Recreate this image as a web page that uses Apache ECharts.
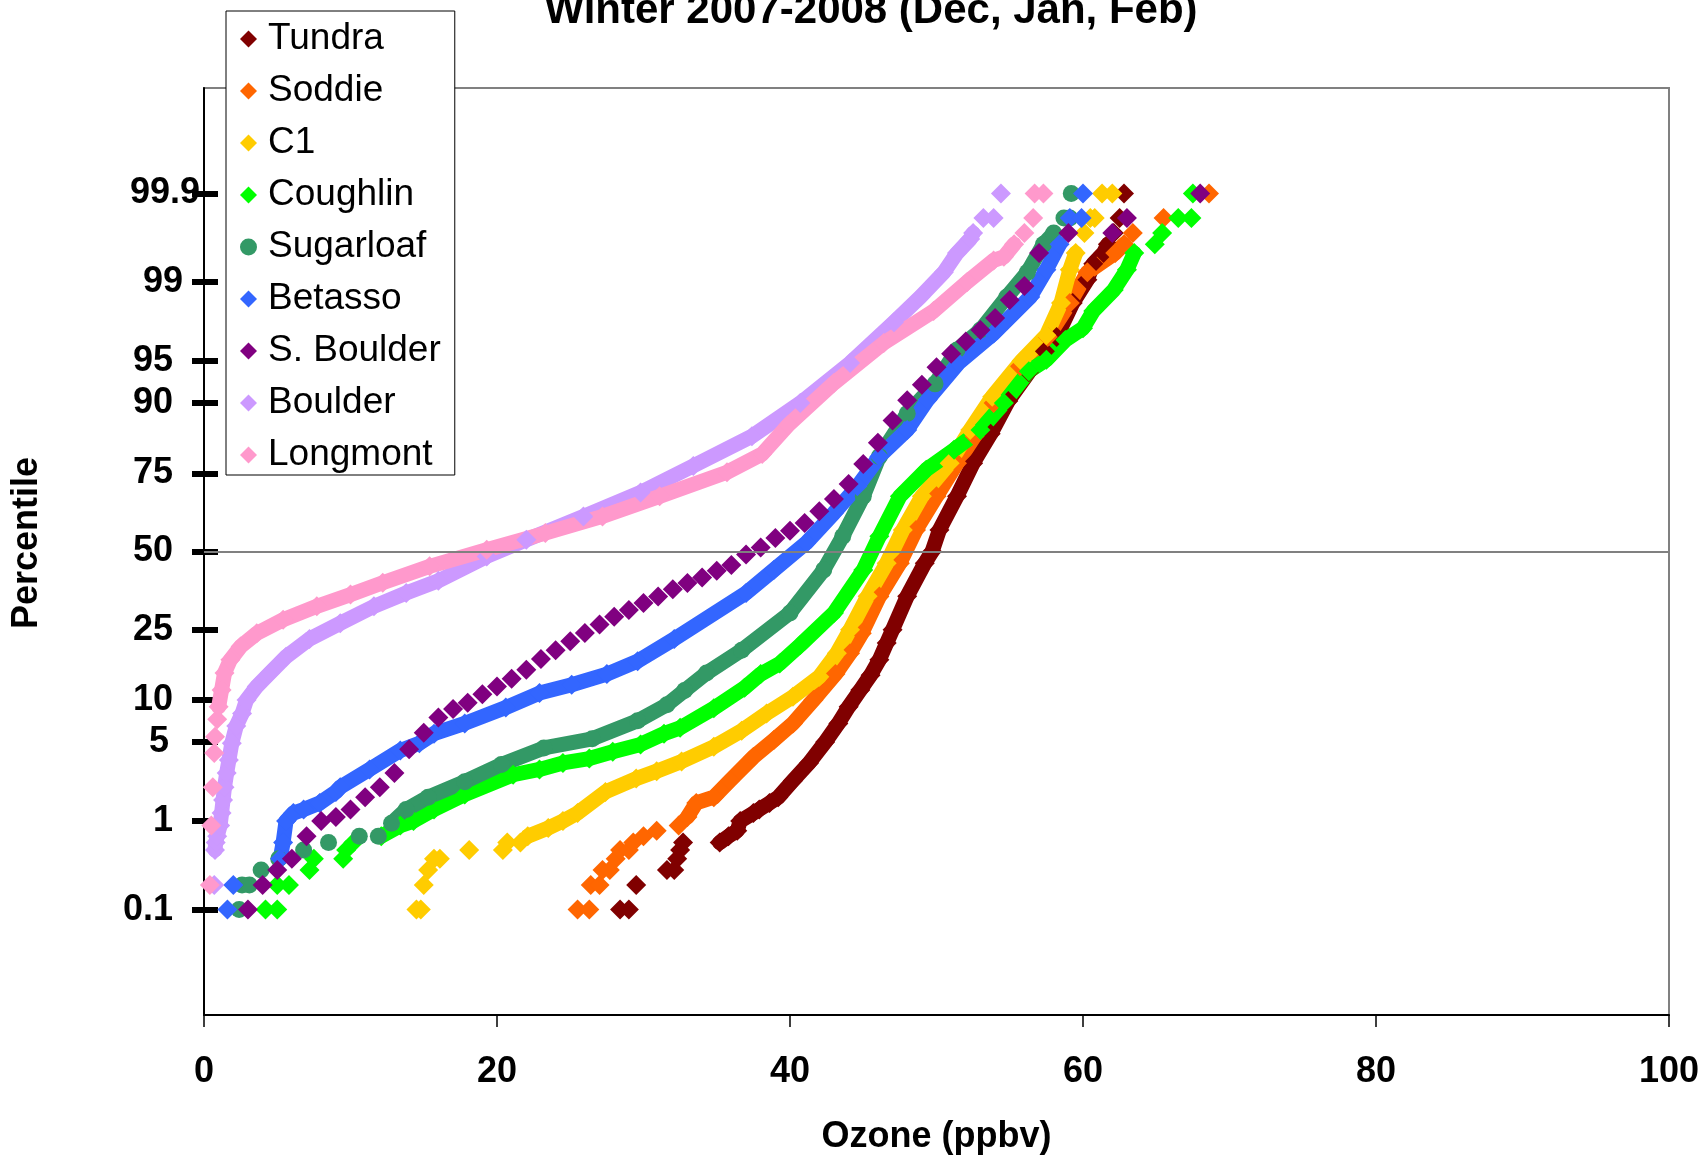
<!DOCTYPE html>
<html>
<head>
<meta charset="utf-8">
<title>Winter 2007-2008 ozone percentiles</title>
<script src="https://cdn.jsdelivr.net/npm/echarts@6/dist/echarts.min.js"></script>
<style>
  html, body { margin: 0; padding: 0; background: #ffffff; }
  #chart { width: 1706px; height: 1155px; }
</style>
</head>
<body>
<div id="chart"></div>
<script>
// Percentile labels shown on the probability (normal-quantile) axis
const percentileTicks = [0.1, 1, 5, 10, 25, 50, 75, 90, 95, 99, 99.9];
const ozoneTicks = [0, 20, 40, 60, 80, 100];

// Each station: [ozone (ppbv), cumulative percentile]
const tundra = [[28.4,0.1],[29.0,0.1],[29.5,0.2],[31.6,0.3],[32.1,0.3],[32.3,0.4],[32.5,0.5],[32.7,0.6],
  [35.2,0.6],[35.8,0.7],[36.4,0.8],[36.6,1.0],[37.5,1.2],[37.9,1.3],[38.6,1.5],[39.2,1.7],[40.2,2.4],
  [41.3,3.4],[42.4,5.0],[43.3,6.9],[44.0,9.0],[44.8,11.6],[45.5,14.3],[46.1,17.5],[46.6,21.5],[47.0,25.0],
  [48.0,35.0],[49.2,46.0],[49.7,50.0],[50.2,57.4],[51.4,68.3],[52.5,77.7],[53.7,84.5],[54.9,90.3],
  [56.3,93.9],[57.4,95.8],[58.2,96.8],[59.3,98.4],[60.3,99.05],[60.7,99.35],[61.4,99.5],[61.7,99.6],
  [62.1,99.7],[62.5,99.8],[62.8,99.9]];

const soddie = [[25.5,0.1],[26.3,0.1],[26.4,0.2],[27.0,0.2],[27.2,0.3],[27.7,0.3],[28.1,0.4],[28.4,0.5],
  [29.0,0.5],[29.3,0.6],[30.0,0.7],[30.9,0.8],[32.4,0.9],[33.0,1.1],[33.6,1.5],[34.8,1.7],[35.9,2.4],
  [37.5,3.8],[38.9,5.2],[40.2,6.9],[41.6,10.0],[43.1,14.5],[44.1,19.0],[44.9,24.0],[46.1,34.9],[47.5,46.0],
  [48.6,57.4],[50.0,68.3],[51.4,77.7],[52.6,84.0],[53.9,90.0],[55.7,94.5],[57.6,96.8],[59.1,98.4],
  [60.3,99.2],[62.2,99.5],[62.8,99.6],[63.4,99.7],[65.5,99.8],[68.6,99.9]];

const c1 = [[14.5,0.1],[14.8,0.1],[15.0,0.2],[15.3,0.3],[15.7,0.4],[16.1,0.4],[18.1,0.5],[20.4,0.5],
  [20.7,0.6],[21.6,0.6],[22.1,0.7],[23.5,0.85],[24.5,1.0],[25.5,1.2],[27.4,1.9],[29.5,2.5],[30.9,2.9],
  [32.6,3.5],[34.8,4.6],[36.7,6.1],[38.4,8.1],[40.2,10.5],[42.0,14.0],[43.2,19.0],[44.1,25.0],[45.3,35.0],
  [46.6,46.0],[47.7,57.4],[49.0,68.3],[50.9,77.7],[52.3,85.3],[53.8,90.9],[55.8,95.0],[57.5,96.9],
  [58.5,98.4],[59.1,99.25],[59.5,99.5],[60.1,99.7],[60.5,99.8],[60.8,99.8],[61.3,99.9],[62.0,99.9]];

const coughlin = [[4.2,0.1],[5.0,0.1],[5.0,0.2],[5.8,0.2],[7.2,0.3],[7.5,0.4],[9.5,0.4],[9.7,0.5],
  [10.2,0.6],[12.1,0.7],[13.4,0.9],[14.3,1.0],[15.7,1.3],[17.8,1.8],[21.1,2.7],[22.9,3.0],[24.5,3.4],
  [26.3,3.7],[27.9,4.2],[29.8,4.8],[31.4,5.8],[32.5,6.4],[34.8,8.8],[36.9,12.0],[38.0,14.5],[39.3,16.7],
  [40.7,21.0],[43.0,29.8],[45.0,43.7],[46.1,55.2],[47.5,68.3],[49.3,76.0],[51.2,81.0],[53.0,85.3],
  [54.6,90.0],[56.3,94.0],[57.5,95.1],[58.8,96.6],[60.0,97.3],[60.7,98.1],[62.1,98.8],[63.0,99.25],
  [63.5,99.5],[64.9,99.6],[65.4,99.7],[66.5,99.8],[67.4,99.8],[67.5,99.9]];

const sugarloaf = [[2.4,0.1],[2.6,0.2],[3.1,0.2],[3.9,0.3],[5.1,0.4],[6.8,0.5],[8.5,0.6],[10.6,0.7],
  [11.9,0.7],[12.8,0.95],[13.8,1.3],[15.3,1.7],[17.8,2.35],[20.3,3.3],[23.2,4.5],[26.5,5.3],[29.6,7.2],
  [31.6,9.3],[32.8,11.5],[34.3,14.7],[36.7,19.7],[40.0,29.8],[42.3,43.7],[43.6,55.2],[45.0,68.3],
  [46.1,79.4],[48.0,88.3],[49.9,92.6],[51.4,95.9],[53.0,97.2],[54.8,98.6],[56.2,99.2],[57.3,99.6],
  [58.0,99.7],[58.7,99.8],[59.1,99.8],[59.2,99.9]];

const betasso = [[1.6,0.1],[2.0,0.2],[5.2,0.4],[5.4,0.6],[5.6,1.0],[6.1,1.2],[6.8,1.3],[7.9,1.5],
  [9.0,1.9],[9.3,2.1],[11.3,3.0],[13.4,4.3],[14.7,4.9],[15.7,5.8],[17.8,6.9],[20.6,8.9],[22.9,11.1],
  [25.1,12.5],[27.5,14.5],[29.6,17.2],[32.1,22.5],[37.0,36.0],[38.9,43.7],[41.1,52.9],[43.0,63.0],
  [44.6,71.3],[46.1,79.4],[48.0,85.3],[49.4,90.5],[51.5,94.8],[53.9,97.0],[56.4,98.6],[57.5,99.25],
  [58.4,99.6],[59.1,99.8],[59.9,99.8],[60.0,99.9]];

const sBoulder = [[3,0.1],[4,0.2],[5,0.3],[6,0.4],[7,0.7],[8,1.0],[9,1.1],[10,1.3],[11,1.7],[12,2.1],
  [13,2.8],[14,4.4],[15,5.9],[16,7.6],[17,8.7],[18,9.6],[19,10.9],[20,12.2],[21,13.6],[22,15.4],
  [23,17.7],[24,19.7],[25,21.9],[26,24.1],[27,26.4],[28,28.7],[29,30.7],[30,32.8],[31,34.9],[32,37.2],
  [33,39.3],[34,41.1],[35,43.4],[36,45.4],[37,49.0],[38,51.4],[39,54.6],[40,57.1],[41,59.7],[42,63.6],
  [43,67.5],[44,72.0],[45,77.5],[46,82.6],[47,87.1],[48,90.4],[49,92.5],[50,94.4],[51,95.6],[52,96.5],
  [53,97.2],[54,97.8],[55,98.5],[56,98.9],[57,99.5],[59,99.7],[62,99.7],[63,99.8],[68,99.9]];

const boulder = [[0.7,0.2],[0.75,0.5],[0.8,0.6],[0.9,0.7],[1.1,0.9],[1.2,1.2],[1.3,1.6],[1.4,2.1],
  [1.55,2.8],[1.7,3.6],[1.9,4.9],[2.2,6.6],[2.6,8.1],[2.9,10.0],[3.6,12.2],[4.5,14.7],[5.6,18.2],
  [7.2,22.5],[9.3,26.8],[11.6,31.8],[13.8,36.0],[16.0,40.0],[19.3,48.3],[22.0,54.0],[25.9,61.9],
  [29.8,69.5],[33.4,77.0],[37.4,84.0],[40.7,90.0],[44.1,94.8],[47.1,97.6],[48.9,98.6],[50.5,99.2],
  [51.4,99.5],[52.3,99.65],[52.5,99.7],[53.2,99.8],[53.9,99.8],[54.4,99.9]];

const longmont = [[0.4,0.2],[0.5,0.9],[0.6,2.1],[0.7,4.1],[0.75,5.5],[0.9,7.4],[1.0,9.0],[1.2,11.6],
  [1.4,14.7],[1.8,17.5],[2.5,20.6],[3.6,24.0],[5.4,27.8],[7.7,31.8],[10.0,35.5],[12.2,39.4],[15.4,44.9],
  [19.3,50.6],[23.3,56.3],[27.2,61.9],[31.1,68.3],[35.7,75.3],[38.1,80.0],[39.9,86.3],[43.0,92.7],
  [46.4,96.4],[49.8,98.1],[52.1,99.0],[53.9,99.4],[54.6,99.45],[55.3,99.6],[56.0,99.7],[56.6,99.8],
  [56.7,99.9],[57.3,99.9]];

// Drawing style per station; "band" is the ozone range where readings are dense
// enough that the markers merge into a continuous trace.
const stations = [
  { name: 'Tundra',     data: tundra,    color: '#800000', symbol: 'diamond', band: [35.0, 61.8] },
  { name: 'Soddie',     data: soddie,    color: '#FF6600', symbol: 'diamond', band: [33.0, 62.9] },
  { name: 'C1',         data: c1,        color: '#FFCC00', symbol: 'diamond', band: [22.0, 59.6] },
  { name: 'Coughlin',   data: coughlin,  color: '#00FF00', symbol: 'diamond', band: [12.0, 63.6] },
  { name: 'Sugarloaf',  data: sugarloaf, color: '#339966', symbol: 'circle',  band: [12.5, 58.1] },
  { name: 'Betasso',    data: betasso,   color: '#3366FF', symbol: 'diamond', band: [5.1, 58.5] },
  { name: 'S. Boulder', data: sBoulder,  color: '#800080', symbol: 'diamond', band: null },
  { name: 'Boulder',    data: boulder,   color: '#CC99FF', symbol: 'diamond', band: [0.72, 52.6] },
  { name: 'Longmont',   data: longmont,  color: '#FF99CC', symbol: 'diamond', band: [0.95, 55.4] }
];

// Inverse of the standard normal CDF (Acklam), used to place percentiles on a probit scale
function probit(p) {
  const a = [-3.969683028665376e+01, 2.209460984245205e+02, -2.759285104469687e+02,
             1.383577518672690e+02, -3.066479806614716e+01, 2.506628277459239e+00];
  const b = [-5.447609879822406e+01, 1.615858368580409e+02, -1.556989798598866e+02,
             6.680131188771972e+01, -1.328068155288572e+01];
  const c = [-7.784894002430293e-03, -3.223964580411365e-01, -2.400758277161838e+00,
             -2.549732539343734e+00, 4.374664141464968e+00, 2.938163982698783e+00];
  const d = [7.784695709041462e-03, 3.224671290700398e-01, 2.445134137142996e+00,
             3.754408661907416e+00];
  const pl = 0.02425, ph = 1 - pl;
  let q, r;
  if (p < pl) {
    q = Math.sqrt(-2 * Math.log(p));
    return (((((c[0]*q+c[1])*q+c[2])*q+c[3])*q+c[4])*q+c[5]) / ((((d[0]*q+d[1])*q+d[2])*q+d[3])*q+1);
  }
  if (p <= ph) {
    q = p - 0.5; r = q * q;
    return (((((a[0]*r+a[1])*r+a[2])*r+a[3])*r+a[4])*r+a[5])*q / (((((b[0]*r+b[1])*r+b[2])*r+b[3])*r+b[4])*r+1);
  }
  q = Math.sqrt(-2 * Math.log(1 - p));
  return -(((((c[0]*q+c[1])*q+c[2])*q+c[3])*q+c[4])*q+c[5]) / ((((d[0]*q+d[1])*q+d[2])*q+d[3])*q+1);
}

const toXY = pts => pts.map(([o, pct]) => [o, probit(pct / 100)]);
const zTicks = percentileTicks.map(t => probit(t / 100));

const FONT = '"Liberation Sans", Arial, Helvetica, sans-serif';

// right-hand spacing of each percentile label (labels are not all flush with each other)
const labelSpacing = { '99.9': 0, '99': 17, '5': 31 };
const richLabel = {};
[0, 17, 27, 31].forEach(k => {
  richLabel['s' + k] = { fontFamily: FONT, fontSize: 36, fontWeight: 'bold', color: '#000',
                         padding: [0, k, 0, 0] };
});

const series = [{
  // 50th percentile reference line
  type: 'line', data: [], z: 1, silent: true,
  markLine: {
    silent: true, symbol: 'none', label: { show: false },
    lineStyle: { color: '#808080', width: 2, type: 'solid' },
    data: [{ yAxis: 0 }]
  }
}];

stations.forEach(st => {
  series.push({
    type: 'scatter', name: st.name, data: toXY(st.data), z: 2,
    symbol: st.symbol, symbolSize: st.symbol === 'circle' ? 17 : 20,
    itemStyle: { color: st.color, opacity: 1 }
  });
  if (st.band) {
    const dense = st.data.filter(([o]) => o >= st.band[0] && o <= st.band[1]);
    series.push({
      type: 'line', name: st.name + ' trace', data: toXY(dense), symbol: 'none', silent: true, z: 2,
      lineStyle: { color: st.color, width: 15, cap: 'round', join: 'round' },
      itemStyle: { color: st.color }
    });
  }
});

const chart = echarts.init(document.getElementById('chart'), null, { renderer: 'canvas' });
chart.setOption({
  animation: false,
  backgroundColor: '#ffffff',
  textStyle: { fontFamily: FONT },
  graphic: [{
    type: 'text', x: 871, y: 32, z: 10,
    style: {
      text: 'Winter 2007-2008 (Dec, Jan, Feb)',
      font: 'bold 42px ' + FONT, fill: '#000',
      textAlign: 'center', textVerticalAlign: 'bottom'
    }
  }, {
    type: 'text', x: 27, y: 543, rotation: Math.PI / 2, z: 10,
    style: {
      text: 'Percentile',
      font: 'bold 36px ' + FONT, fill: '#000',
      textAlign: 'center', textVerticalAlign: 'middle'
    }
  }],
  grid: {
    left: 204, top: 88, width: 1465, height: 927,
    outerBoundsMode: 'none', containLabel: false,
    show: true, borderColor: '#808080', borderWidth: 2, backgroundColor: '#ffffff'
  },
  legend: {
    orient: 'vertical', left: 226, top: 11,
    padding: [8, 14, 0, 14], itemGap: 12,
    itemWidth: 17, itemHeight: 17,
    backgroundColor: '#ffffff', borderColor: '#000000', borderWidth: 1,
    textStyle: { fontFamily: FONT, fontSize: 37, color: '#000', lineHeight: 40, padding: [0, 0, 0, 6] },
    selectedMode: false,
    data: stations.map(st => ({ name: st.name, icon: st.symbol }))
  },
  xAxis: {
    type: 'value', min: 0, max: 100, interval: 20,
    axisLine: { show: true, onZero: false, lineStyle: { color: '#000', width: 2 } },
    axisTick: { show: true, length: 12, lineStyle: { color: '#000', width: 1.5 } },
    axisLabel: { fontFamily: FONT, fontSize: 36, fontWeight: 'bold', color: '#000', margin: 39,
                 formatter: v => ozoneTicks.includes(v) ? String(v) : '' },
    splitLine: { show: false },
    name: 'Ozone (ppbv)', nameLocation: 'middle', nameGap: 104,
    nameTextStyle: { fontFamily: FONT, fontSize: 36, fontWeight: 'bold', color: '#000' }
  },
  yAxis: [{
    type: 'value', min: -4, max: 4, position: 'left',
    axisLine: { show: true, onZero: false, lineStyle: { color: '#000', width: 2 } },
    axisTick: { show: true, customValues: zTicks, length: 12, lineStyle: { color: '#000', width: 6 } },
    axisLabel: {
      customValues: zTicks, margin: 4,
      fontFamily: FONT, fontSize: 36, fontWeight: 'bold', color: '#000',
      formatter: v => {
        const i = zTicks.findIndex(z => Math.abs(z - v) < 1e-6);
        if (i < 0) return '';
        const s = String(percentileTicks[i]);
        const k = (s in labelSpacing) ? labelSpacing[s] : 27;
        return '{s' + k + '|' + s + '}';
      },
      rich: richLabel
    },
    splitLine: { show: false }
  }, {
    // inner half of the crossing tick marks
    type: 'value', min: -4, max: 4, position: 'left',
    axisLine: { show: false, onZero: false },
    axisTick: { show: true, inside: true, customValues: zTicks, length: 14,
                lineStyle: { color: '#000', width: 6 } },
    axisLabel: { show: false },
    splitLine: { show: false }
  }],
  series: series
});
</script>
</body>
</html>
